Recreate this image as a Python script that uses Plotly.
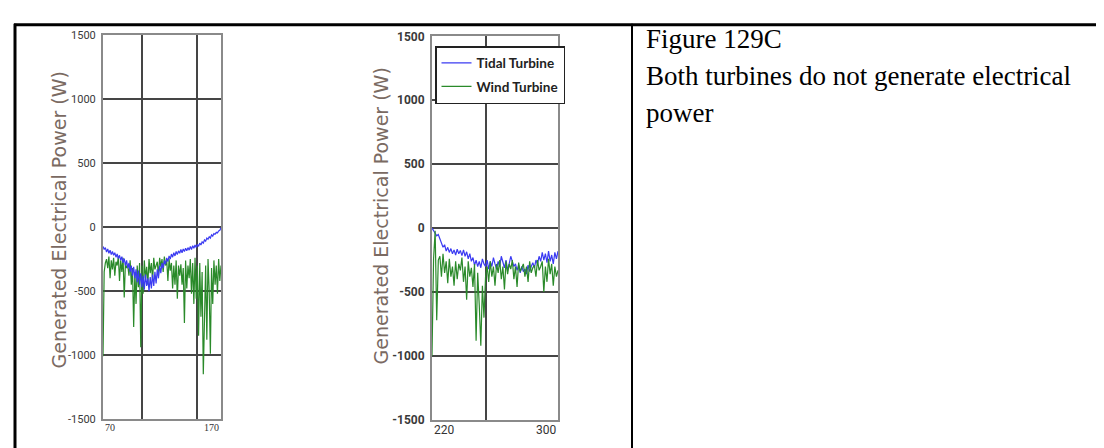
import plotly.graph_objects as go

W, H = 1104, 448

# ---------------- data ----------------
left_x = list(range(70, 171))
left_tidal = [
    -150, -175, -160, -195, -170, -205, -180, -215, -190, -220,
    -200, -235, -210, -245, -220, -260, -230, -280, -245, -300,
    -260, -320, -280, -350, -300, -380, -310, -400, -330, -430,
    -340, -450, -360, -470, -380, -490, -370, -460, -400, -500,
    -390, -480, -370, -460, -350, -440, -330, -400, -300, -360,
    -280, -320, -260, -290, -240, -270, -225, -250, -210, -235,
    -200, -225, -190, -215, -185, -205, -175, -200, -170, -190,
    -165, -185, -160, -180, -150, -175, -145, -165, -140, -160,
    -135, -150, -125, -140, -115, -125, -100, -110, -85, -95,
    -75, -85, -60, -70, -50, -55, -40, -45, -30, -25,
    -5,
]
left_wind = [
    -1010, -350, -280, -250, -320, -230, -400, -260, -330, -240,
    -380, -270, -300, -230, -420, -260, -350, -240, -550, -280,
    -320, -300, -380, -260, -450, -320, -780, -350, -600, -300,
    -470, -280, -940, -300, -520, -260, -400, -310, -450, -250,
    -360, -280, -420, -240, -330, -300, -270, -380, -240, -310,
    -250, -350, -230, -300, -260, -420, -250, -340, -280, -480,
    -300, -450, -260, -560, -300, -380, -290, -450, -320, -750,
    -260, -480, -300, -400, -250, -520, -280, -600, -240, -560,
    -300, -850, -280, -700, -350, -1150, -600, -300, -880, -250,
    -500, -990, -320, -600, -260, -450, -300, -520, -250, -420,
    -300,
]

right_x = list(range(220, 301))
right_tidal = [
    0, -20, -40, -60, -50, -90, -110, -150, -130, -180,
    -150, -190, -160, -200, -170, -210, -165, -200, -175, -215,
    -170, -220, -185, -240, -200, -260, -230, -290, -250, -300,
    -260, -310, -240, -280, -300, -250, -320, -260, -300, -230,
    -280, -320, -260, -300, -220, -270, -310, -250, -330, -280,
    -220, -260, -300, -280, -330, -290, -350, -300, -340, -320,
    -360, -290, -340, -300, -270, -310, -250, -280, -220, -260,
    -190, -250, -200, -270, -180, -260, -210, -280, -190, -240,
    -180,
]
right_wind = [
    -1000, -240, -20, -720, -250, -220, -380, -200, -350, -260,
    -430, -240, -380, -300, -450, -260, -400, -280, -330, -230,
    -420, -300, -560, -260, -380, -310, -460, -280, -880, -350,
    -600, -920, -450, -700, -380, -300, -420, -260, -380, -300,
    -450, -280, -350, -250, -400, -300, -480, -260, -360, -280,
    -320, -250, -400, -300, -460, -270, -340, -310, -280, -380,
    -300, -420, -260, -350, -310, -290, -380, -250, -330, -300,
    -260, -500, -300, -420, -240, -360, -280, -450, -300, -380,
    -330,
]

y_ticks = [-1500, -1000, -500, 0, 500, 1000, 1500]
y_tick_text = ["-1500", "-1000", "-500", "0", "500", "1000", "1500"]
left_grid_x = [103, 150]
right_grid_x = [254]
left_range = [70, 170]
right_range = [220, 300]
series_names = ["Tidal Turbine", "Wind Turbine"]
axis_title = "Generated Electrical Power (W)"
caption_lines = ["Figure 129C", "Both turbines do not generate electrical", "power"]

BLUE = "#3b3bf2"
GREEN = "#2a8a2a"

fig = go.Figure()
fig.add_trace(go.Scatter(x=left_x, y=left_wind, mode="lines", line=dict(color=GREEN, width=1.2),
                         xaxis="x", yaxis="y", showlegend=False))
fig.add_trace(go.Scatter(x=left_x, y=left_tidal, mode="lines", line=dict(color=BLUE, width=1.2),
                         xaxis="x", yaxis="y", showlegend=False))
fig.add_trace(go.Scatter(x=right_x, y=right_tidal, mode="lines", name=series_names[0],
                         line=dict(color=BLUE, width=1.2), xaxis="x2", yaxis="y2",
                         legendgroup="a", legendrank=1))
fig.add_trace(go.Scatter(x=right_x, y=right_wind, mode="lines", name=series_names[1],
                         line=dict(color=GREEN, width=1.2), xaxis="x2", yaxis="y2",
                         legendgroup="b", legendrank=2))

TICKFONT = "Roboto, sans-serif"

def xax(domain, rng, grid):
    return dict(domain=domain, range=rng, tickvals=grid, showticklabels=False,
                showgrid=True, gridcolor="#454545", gridwidth=1.6, zeroline=False,
                showline=True, mirror=True, linecolor="#8a8a8a", linewidth=2, ticks="")

def yax(domain, anchor, size, weight):
    return dict(domain=domain, range=[-1500, 1500], tickvals=y_ticks, ticktext=y_tick_text,
                anchor=anchor,
                showgrid=True, gridcolor="#454545", gridwidth=1.6, zeroline=False,
                showline=True, mirror=True, linecolor="#8a8a8a", linewidth=2, ticks="",
                ticklabelstandoff=3,
                tickfont=dict(family=TICKFONT, size=size, color="#3a3a3a", weight=weight))

fig.update_layout(
    width=W, height=H,
    margin=dict(l=0, r=0, t=0, b=0),
    paper_bgcolor="white", plot_bgcolor="white",
    xaxis=xax([95 / W, 213 / W], left_range, left_grid_x) | dict(anchor="y"),
    yaxis=yax([1 - 417 / H, 1 - 21 / H], "x", 11, "normal"),
    xaxis2=xax([424 / W, 550 / W], right_range, right_grid_x) | dict(anchor="y2"),
    yaxis2=yax([1 - 418 / H, 1 - 22 / H], "x2", 12, "bold"),
    showlegend=True,
    legend=dict(x=427 / W, y=1 - 32 / H, xanchor="left", yanchor="top",
                bgcolor="white", bordercolor="#222", borderwidth=1.5,
                font=dict(family="Lato, sans-serif", size=13.5, color="#222", weight="bold"),
                tracegroupgap=3, itemwidth=30),
)

# table borders
fig.add_shape(type="line", xref="paper", yref="paper", x0=6 / W, x1=1, y0=1 - 10 / H, y1=1 - 10 / H,
              line=dict(color="black", width=3))
fig.add_shape(type="line", xref="paper", yref="paper", x0=7 / W, x1=7 / W, y0=0, y1=1 - 9 / H,
              line=dict(color="black", width=3))
fig.add_shape(type="line", xref="paper", yref="paper", x0=624 / W, x1=624 / W, y0=0, y1=1 - 9 / H,
              line=dict(color="black", width=2))

# axis titles
TITLE_FONT = dict(family="DejaVu Sans, Verdana, sans-serif", size=19, color="#7a6a62")
for cx, cy in ((51, 212), (372, 208)):
    fig.add_annotation(text=axis_title, x=cx / W, y=1 - cy / H, xref="paper", yref="paper",
                       textangle=-90, showarrow=False, font=TITLE_FONT,
                       xanchor="center", yanchor="middle")

# x end labels
XL_FONT = dict(family="Liberation Serif, serif", size=10, color="#333")
fig.add_annotation(text=str(left_range[0]), x=left_range[0], y=1 - 418 / H, xref="x", yref="paper",
                   showarrow=False, font=XL_FONT, xanchor="left", yanchor="top")
fig.add_annotation(text=str(left_range[1]), x=left_range[1], y=1 - 418 / H, xref="x", yref="paper",
                   showarrow=False, font=XL_FONT, xanchor="right", yanchor="top")
XR_FONT = dict(family=TICKFONT, size=12, color="#333")
for v, anc in ((right_range[0], "left"), (right_range[1], "right")):
    fig.add_annotation(text=str(v), x=v, y=1 - 419 / H, xref="x2", yref="paper", showarrow=False,
                       font=XR_FONT, xanchor=anc, yanchor="top")

# right panel text
SERIF = "Liberation Serif, Times New Roman, serif"
for line, cy in zip(caption_lines, (25, 63, 101)):
    fig.add_annotation(text=line, x=636 / W, y=1 - cy / H, xref="paper", yref="paper",
                       showarrow=False, xanchor="left", yanchor="middle",
                       font=dict(family=SERIF, size=27, color="black"))

fig.write_html("out.html")
